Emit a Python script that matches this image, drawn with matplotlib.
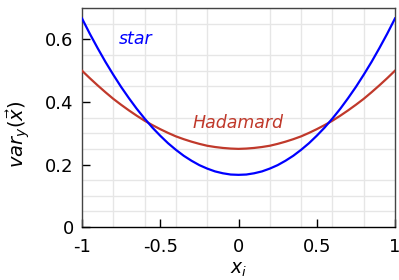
import matplotlib
matplotlib.use("Agg")
import matplotlib.pyplot as plt
from matplotlib.ticker import MultipleLocator

plt.rcParams['mathtext.fontset'] = 'dejavusans'
plt.rcParams['font.family'] = 'DejaVu Sans'

x_vals = [-1.00, -0.95, -0.90, -0.85, -0.80, -0.75, -0.70, -0.65, -0.60, -0.55, -0.50,
          -0.45, -0.40, -0.35, -0.30, -0.25, -0.20, -0.15, -0.10, -0.05, 0.00,
          0.05, 0.10, 0.15, 0.20, 0.25, 0.30, 0.35, 0.40, 0.45, 0.50,
          0.55, 0.60, 0.65, 0.70, 0.75, 0.80, 0.85, 0.90, 0.95, 1.00]
star_vals = [0.667, 0.618, 0.572, 0.528, 0.487, 0.448, 0.412, 0.378, 0.347, 0.318, 0.292,
             0.268, 0.247, 0.228, 0.212, 0.198, 0.187, 0.178, 0.172, 0.168, 0.167,
             0.168, 0.172, 0.178, 0.187, 0.198, 0.212, 0.228, 0.247, 0.268, 0.292,
             0.318, 0.347, 0.378, 0.412, 0.448, 0.487, 0.528, 0.572, 0.618, 0.667]
hadamard_vals = [0.500, 0.476, 0.453, 0.431, 0.410, 0.391, 0.373, 0.356, 0.340, 0.326, 0.313,
                 0.301, 0.290, 0.281, 0.273, 0.266, 0.260, 0.256, 0.253, 0.251, 0.250,
                 0.251, 0.253, 0.256, 0.260, 0.266, 0.273, 0.281, 0.290, 0.301, 0.313,
                 0.326, 0.340, 0.356, 0.373, 0.391, 0.410, 0.431, 0.453, 0.476, 0.500]
x_ticks = [-1, -0.5, 0, 0.5, 1]
x_tick_labels = ['-1', '-0.5', '0', '0.5', '1']
y_ticks = [0, 0.2, 0.4, 0.6]
y_tick_labels = ['0', '0.2', '0.4', '0.6']

BLUE = '#0000ff'
RED = '#c0392b'

fig = plt.figure(figsize=(3.99, 2.80), dpi=100)
ax = fig.add_axes([0.2055, 0.189, 0.7845, 0.782])

ax.plot(x_vals, hadamard_vals, color=RED, lw=1.6, zorder=3)
ax.plot(x_vals, star_vals, color=BLUE, lw=1.6, zorder=4)

ax.set_xlim(-1, 1)
ax.set_ylim(0, 0.7)
ax.set_xticks(x_ticks)
ax.set_xticklabels(x_tick_labels)
ax.set_yticks(y_ticks)
ax.set_yticklabels(y_tick_labels)
ax.xaxis.set_minor_locator(MultipleLocator(0.2))
ax.yaxis.set_minor_locator(MultipleLocator(0.05))
ax.grid(which='minor', color='#e6e6e6', lw=1.0, zorder=0)
ax.grid(which='major', visible=False)
ax.set_axisbelow(True)

ax.tick_params(which='major', direction='in', length=6, width=1, labelsize=13,
               top=False, right=False, colors='black')
ax.tick_params(axis='x', which='major', pad=8)
ax.tick_params(axis='y', which='major', pad=6)
ax.tick_params(which='minor', length=0)

for s in ['left', 'top', 'right']:
    ax.spines[s].set_color('#444444')
    ax.spines[s].set_linewidth(1.0)
ax.spines['bottom'].set_color('black')
ax.spines['bottom'].set_linewidth(1.0)

ax.set_xlabel(r'$x_i$', fontsize=13.5)
ax.xaxis.label.set_va('center')
ax.xaxis.set_label_coords(0.5, -0.196)
ax.set_ylabel(r'$var_y(\vec{x})$', fontsize=14)
ax.yaxis.label.set_va('center')
ax.yaxis.set_label_coords(-0.204, 0.425)

ax.text(-0.66, 0.6, 'star', color=BLUE, fontsize=12.5, style='italic',
        ha='center', va='center')
ax.text(0.0, 0.334, 'Hadamard', color=RED, fontsize=12.5, style='italic',
        ha='center', va='center')

fig.savefig('out.png', dpi=100)
